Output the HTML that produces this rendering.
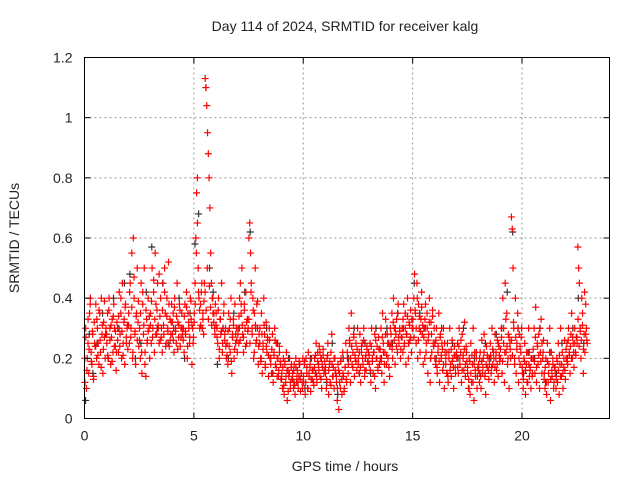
<!DOCTYPE html>
<html><head><meta charset="utf-8"><style>
body{margin:0;background:#fff}
svg{display:block;font-family:"Liberation Sans",sans-serif}
</style></head><body>
<svg id="chart" width="640" height="480" viewBox="0 0 640 480">
<rect width="640" height="480" fill="#fff"/>
<text x="345" y="31" text-anchor="middle" font-size="14" fill="#222">Day 114 of 2024, SRMTID for receiver kalg</text>
<text transform="translate(19,238) rotate(-90)" text-anchor="middle" font-size="14" fill="#222">SRMTID / TECUs</text>
<text x="345" y="471" text-anchor="middle" font-size="14" fill="#222">GPS time / hours</text>
<g id="grid"></g>
<g id="black"></g>
<g id="red"></g>
<rect x="84.5" y="57.5" width="525" height="361" fill="none" stroke="#000" stroke-width="1"/>
<g id="ticks"></g>
</svg>
<script>
const xTicks=[0,5,10,15,20];
const yTicks=[0,0.2,0.4,0.6,0.8,1,1.2];
const yTickLabels=["0","0.2","0.4","0.6","0.8","1","1.2"];
const segStart=[0,0.5,1,1.5,2,2.5,3,3.5,4,4.5,5,5.5,6,6.5,7,7.5,8,8.5,9,9.5,10,10.5,11,11.5,12,12.5,13,13.5,14,14.5,15,15.5,16,16.5,17,17.5,18,18.5,19,19.5,20,20.5,21,21.5,22,22.5];
const redVals=[
[0.12,0.3,0.1,0.2,0.25,0.15,0.35,0.4,0.22,0.18,0.28,0.13,0.32,0.24],
[0.38,0.2,0.3,0.25,0.18,0.35,0.22,0.4,0.28,0.15,0.32,0.27,0.2,0.3],
[0.25,0.35,0.2,0.4,0.3,0.18,0.27,0.33,0.22,0.38,0.3,0.24,0.16,0.32],
[0.3,0.22,0.42,0.28,0.35,0.2,0.45,0.25,0.32,0.18,0.38,0.27,0.3,0.23],
[0.35,0.25,0.45,0.3,0.55,0.2,0.6,0.4,0.28,0.18,0.35,0.5,0.32,0.24],
[0.3,0.2,0.45,0.15,0.38,0.28,0.5,0.22,0.14,0.33,0.26,0.4,0.3,0.2],
[0.35,0.25,0.5,0.3,0.42,0.22,0.55,0.38,0.28,0.45,0.3,0.25,0.34,0.4],
[0.3,0.22,0.45,0.28,0.5,0.35,0.25,0.4,0.3,0.52,0.24,0.33,0.28,0.38],
[0.28,0.35,0.22,0.4,0.3,0.25,0.45,0.32,0.27,0.38,0.24,0.3,0.35,0.28],
[0.3,0.22,0.38,0.28,0.42,0.2,0.35,0.3,0.25,0.4,0.33,0.18,0.3,0.27],
[0.35,0.45,0.6,0.75,0.8,0.5,0.4,0.3,0.38,0.42,0.3,0.35,0.28,0.45],
[1.13,1.1,1.04,0.95,0.88,0.8,0.7,0.55,0.45,0.4,0.35,0.32,0.3,0.38],
[0.35,0.3,0.25,0.4,0.2,0.33,0.28,0.45,0.22,0.3,0.38,0.26,0.3,0.2],
[0.25,0.18,0.35,0.3,0.22,0.4,0.15,0.28,0.33,0.2,0.38,0.25,0.3,0.22],
[0.3,0.25,0.4,0.45,0.35,0.5,0.28,0.22,0.38,0.3,0.42,0.25,0.33,0.3],
[0.6,0.65,0.55,0.45,0.3,0.4,0.2,0.35,0.5,0.25,0.38,0.3,0.18,0.28],
[0.3,0.2,0.35,0.15,0.25,0.4,0.28,0.18,0.32,0.22,0.26,0.14,0.3,0.2],
[0.2,0.15,0.28,0.12,0.22,0.3,0.18,0.25,0.14,0.2,0.16,0.24,0.19,0.13],
[0.15,0.1,0.2,0.08,0.18,0.12,0.22,0.06,0.16,0.14,0.2,0.1,0.17,0.13],
[0.15,0.1,0.18,0.08,0.2,0.12,0.16,0.1,0.14,0.18,0.09,0.15,0.12,0.2],
[0.12,0.18,0.08,0.2,0.15,0.1,0.22,0.14,0.17,0.09,0.2,0.13,0.16,0.11],
[0.2,0.15,0.25,0.12,0.22,0.18,0.24,0.14,0.2,0.1,0.17,0.23,0.15,0.19],
[0.15,0.1,0.2,0.25,0.08,0.18,0.12,0.22,0.28,0.14,0.17,0.1,0.2,0.15],
[0.12,0.06,0.18,0.03,0.15,0.1,0.2,0.08,0.22,0.14,0.1,0.17,0.25,0.12],
[0.2,0.15,0.3,0.25,0.12,0.35,0.18,0.22,0.28,0.14,0.2,0.25,0.16,0.3],
[0.2,0.15,0.28,0.12,0.22,0.25,0.18,0.3,0.14,0.2,0.16,0.24,0.19,0.22],
[0.18,0.25,0.12,0.3,0.2,0.15,0.22,0.28,0.1,0.2,0.24,0.16,0.27,0.18],
[0.2,0.3,0.15,0.35,0.25,0.12,0.22,0.33,0.18,0.28,0.2,0.25,0.14,0.3],
[0.25,0.35,0.2,0.4,0.3,0.18,0.28,0.33,0.22,0.38,0.25,0.3,0.2,0.27],
[0.3,0.22,0.38,0.25,0.35,0.18,0.28,0.4,0.2,0.32,0.26,0.36,0.22,0.3],
[0.3,0.4,0.48,0.35,0.25,0.45,0.2,0.38,0.3,0.22,0.33,0.42,0.28,0.18],
[0.3,0.2,0.38,0.25,0.35,0.15,0.28,0.4,0.12,0.32,0.22,0.36,0.25,0.3],
[0.25,0.18,0.3,0.15,0.22,0.35,0.12,0.28,0.2,0.25,0.16,0.3,0.1,0.22],
[0.2,0.15,0.25,0.12,0.22,0.3,0.18,0.14,0.26,0.2,0.1,0.24,0.17,0.21],
[0.2,0.25,0.15,0.3,0.18,0.22,0.12,0.28,0.2,0.16,0.32,0.14,0.24,0.19],
[0.15,0.1,0.2,0.08,0.25,0.12,0.18,0.3,0.06,0.22,0.14,0.2,0.1,0.17],
[0.18,0.12,0.22,0.1,0.26,0.15,0.2,0.28,0.14,0.08,0.24,0.17,0.2,0.13],
[0.2,0.25,0.15,0.3,0.18,0.22,0.12,0.28,0.2,0.16,0.26,0.14,0.24,0.19],
[0.2,0.3,0.15,0.4,0.25,0.12,0.45,0.22,0.35,0.18,0.28,0.1,0.25,0.2],
[0.67,0.63,0.5,0.3,0.2,0.4,0.15,0.25,0.35,0.12,0.28,0.18,0.22,0.3],
[0.15,0.1,0.2,0.25,0.08,0.18,0.12,0.22,0.3,0.14,0.17,0.1,0.2,0.15],
[0.2,0.3,0.15,0.37,0.12,0.25,0.18,0.28,0.1,0.22,0.33,0.15,0.2,0.26],
[0.15,0.1,0.2,0.08,0.25,0.12,0.18,0.3,0.06,0.22,0.14,0.2,0.1,0.17],
[0.15,0.1,0.2,0.12,0.25,0.08,0.18,0.3,0.14,0.22,0.1,0.17,0.26,0.13],
[0.2,0.25,0.18,0.3,0.22,0.15,0.28,0.35,0.2,0.25,0.17,0.3,0.22,0.27],
[0.25,0.57,0.5,0.45,0.3,0.2,0.4,0.35,0.15,0.28,0.22,0.38,0.3,0.25]
];
const redVals2=[
[0.2,0.27,0.16,0.33,0.23,0.38,0.19,0.29,0.14,0.25],
[0.24,0.33,0.21,0.36,0.26,0.17,0.31,0.23,0.39,0.28],
[0.28,0.21,0.36,0.26,0.31,0.19,0.34,0.24,0.29,0.22],
[0.26,0.34,0.24,0.4,0.29,0.21,0.33,0.37,0.25,0.31],
[0.31,0.42,0.27,0.37,0.22,0.47,0.29,0.34,0.26,0.39],
[0.26,0.35,0.22,0.42,0.31,0.18,0.36,0.25,0.29,0.34],
[0.31,0.39,0.27,0.46,0.33,0.28,0.36,0.31,0.48,0.26],
[0.27,0.36,0.31,0.42,0.24,0.34,0.29,0.38,0.26,0.32],
[0.32,0.26,0.37,0.29,0.34,0.23,0.31,0.36,0.27,0.3],
[0.26,0.34,0.29,0.37,0.24,0.32,0.27,0.39,0.31,0.25],
[0.32,0.38,0.55,0.65,0.42,0.36,0.31,0.45,0.33,0.39],
[0.42,0.36,0.5,0.33,0.44,0.37,0.31,0.4,0.35,0.28],
[0.31,0.27,0.36,0.23,0.33,0.29,0.25,0.35,0.28,0.24],
[0.21,0.29,0.24,0.33,0.19,0.27,0.31,0.23,0.28,0.26],
[0.28,0.34,0.26,0.38,0.31,0.27,0.36,0.24,0.32,0.29],
[0.33,0.25,0.42,0.28,0.36,0.22,0.31,0.26,0.39,0.24],
[0.25,0.19,0.28,0.23,0.31,0.17,0.24,0.27,0.21,0.26],
[0.18,0.23,0.15,0.21,0.26,0.17,0.2,0.14,0.22,0.18],
[0.13,0.17,0.11,0.19,0.14,0.16,0.09,0.15,0.12,0.18],
[0.13,0.16,0.11,0.17,0.14,0.12,0.19,0.13,0.15,0.1],
[0.14,0.19,0.12,0.17,0.1,0.15,0.18,0.13,0.16,0.12],
[0.17,0.21,0.14,0.19,0.16,0.22,0.13,0.18,0.21,0.16],
[0.17,0.13,0.21,0.16,0.19,0.11,0.18,0.14,0.2,0.16],
[0.14,0.1,0.16,0.12,0.19,0.13,0.15,0.09,0.17,0.13],
[0.22,0.18,0.26,0.2,0.24,0.17,0.27,0.21,0.19,0.23],
[0.18,0.22,0.17,0.24,0.2,0.26,0.16,0.21,0.23,0.19],
[0.21,0.16,0.24,0.19,0.22,0.14,0.26,0.2,0.17,0.23],
[0.23,0.19,0.27,0.22,0.18,0.28,0.21,0.25,0.17,0.24],
[0.28,0.23,0.32,0.26,0.3,0.24,0.35,0.27,0.29,0.23],
[0.27,0.33,0.24,0.3,0.28,0.34,0.25,0.31,0.27,0.33],
[0.33,0.27,0.36,0.3,0.4,0.26,0.34,0.29,0.37,0.31],
[0.27,0.33,0.22,0.3,0.26,0.32,0.2,0.28,0.34,0.24],
[0.2,0.26,0.17,0.24,0.19,0.27,0.21,0.23,0.18,0.25],
[0.18,0.22,0.14,0.2,0.16,0.23,0.19,0.17,0.21,0.15],
[0.22,0.17,0.24,0.2,0.26,0.16,0.21,0.23,0.18,0.22],
[0.17,0.13,0.19,0.15,0.21,0.12,0.18,0.16,0.22,0.14],
[0.16,0.2,0.14,0.19,0.17,0.22,0.15,0.18,0.21,0.16],
[0.18,0.21,0.17,0.23,0.2,0.17,0.22,0.18,0.25,0.21],
[0.23,0.27,0.19,0.3,0.22,0.33,0.24,0.2,0.27,0.23],
[0.26,0.21,0.32,0.18,0.27,0.23,0.3,0.2,0.24,0.27],
[0.17,0.13,0.19,0.16,0.22,0.12,0.18,0.16,0.2,0.14],
[0.23,0.19,0.27,0.17,0.24,0.21,0.3,0.19,0.25,0.22],
[0.13,0.17,0.12,0.19,0.15,0.22,0.13,0.16,0.18,0.12],
[0.17,0.13,0.19,0.16,0.21,0.14,0.18,0.15,0.2,0.16],
[0.23,0.19,0.26,0.21,0.24,0.2,0.27,0.22,0.25,0.21],
[0.27,0.33,0.24,0.29,0.26,0.31,0.23,0.42,0.28,0.26]
];
const blackVals=[
[0.06,0.28,0.15],[0.25,0.35],[0.2,0.4],[0.3,0.45],[0.48,0.2],[0.25,0.42],[0.57,0.3],[0.45,0.25],
[0.3,0.4],[0.2,0.35],[0.58,0.68,0.3],[1.1,0.5,0.42],[0.18,0.3],[0.2,0.35],[0.3,0.42],[0.62,0.3],
[0.2,0.3],[0.15,0.25],[0.1,0.2],[0.12,0.18],[0.1,0.2],[0.15,0.2],[0.12,0.25],[0.08,0.2],
[0.2,0.3],[0.15,0.25],[0.15,0.3],[0.2,0.3],[0.25,0.35],[0.3,0.25],[0.45,0.35],[0.3,0.2],
[0.2,0.3],[0.15,0.25],[0.2,0.3],[0.1,0.2],[0.15,0.25],[0.2,0.28],[0.3,0.42],[0.62,0.3],
[0.15,0.22],[0.2,0.3],[0.12,0.22],[0.15,0.25],[0.2,0.3],[0.4,0.25]
];
const X0=84.5,X1=609.5,Y0=418.5,Y1=57.5;
const xs=h=>X0+(h/24)*(X1-X0);
const ys=v=>Y0-(v/1.2)*(Y0-Y1);
const NS="http://www.w3.org/2000/svg";
function mk(tag,attrs,parent){const e=document.createElementNS(NS,tag);for(const k in attrs)e.setAttribute(k,attrs[k]);parent.appendChild(e);return e;}
const grid=document.getElementById('grid'),ticks=document.getElementById('ticks');
xTicks.forEach(t=>{const x=xs(t);
 if(t>0){const g=mk('line',{x1:x,x2:x,y1:Y1,y2:Y0,stroke:'#999','stroke-dasharray':'2,3','stroke-width':1},grid);
 
 }
 mk('line',{x1:x,x2:x,y1:Y0,y2:Y0-6,stroke:'#000'},ticks);
 mk('line',{x1:x,x2:x,y1:Y1,y2:Y1+6,stroke:'#000'},ticks);
 const l=mk('text',{x:x,y:Y0+22,'text-anchor':'middle','font-size':14,fill:'#222'},ticks);l.textContent=t;
 
 
});
yTicks.forEach((t,i)=>{const y=ys(t);
 if(i>0&&i<yTicks.length-1){const g=mk('line',{x1:X0,x2:X1,y1:y,y2:y,stroke:'#999','stroke-dasharray':'2,3','stroke-width':1},grid);
 
 }
 mk('line',{x1:X0,x2:X0+6,y1:y,y2:y,stroke:'#000'},ticks);
 mk('line',{x1:X1,x2:X1-6,y1:y,y2:y,stroke:'#000'},ticks);
 const l=mk('text',{x:X0-12,y:y+5,'text-anchor':'end','font-size':14,fill:'#222'},ticks);l.textContent=yTickLabels[i];
 
 
});
function plus(g,x,y,c){return mk('path',{d:`M${x-3.5},${y}h7M${x},${y-3.5}v7`,stroke:c,'stroke-width':1.2,fill:'none'},g);}
const bg=document.getElementById('black'),rg=document.getElementById('red');
blackVals.forEach((arr,s)=>arr.forEach((v,i)=>{
 const p=plus(bg,xs(segStart[s]+0.5*(i+0.3)/arr.length),ys(v),'#333');
 
 
}));
redVals.forEach((arr,s)=>arr.forEach((v,i)=>{
 const p=plus(rg,xs(segStart[s]+0.5*(i+0.5)/arr.length),ys(v),'#f00');
 
 
}));
redVals2.forEach((arr,s)=>arr.forEach((v,i)=>{
 const p=plus(rg,xs(segStart[s]+0.5*(i+0.25)/arr.length),ys(v),'#f00');
 
 
}));
</script>
</body></html>
